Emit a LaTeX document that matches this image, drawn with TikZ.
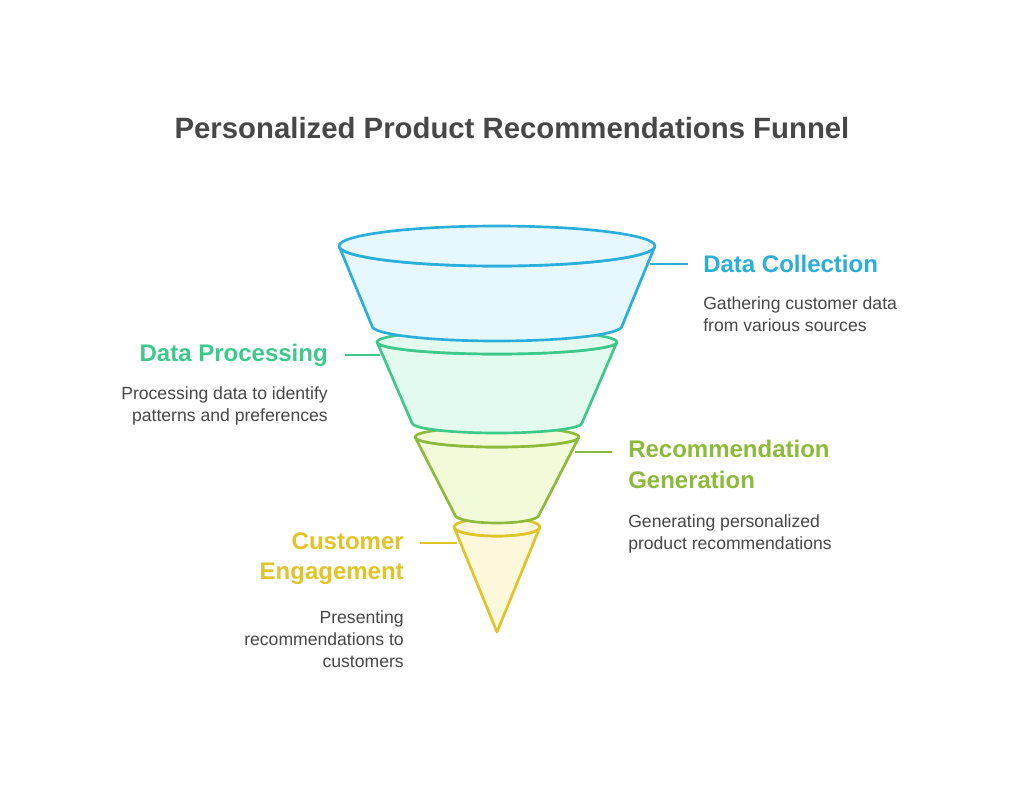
\documentclass[tikz,border=0pt]{standalone}
\usepackage{fontspec}
\setmainfont{Liberation Sans}
\definecolor{cb}{HTML}{2AAEDB}\definecolor{fb}{HTML}{E6F8FE}
\definecolor{cg}{HTML}{3CC98A}\definecolor{fg}{HTML}{E2FBEE}
\definecolor{cl}{HTML}{8DBA3A}\definecolor{fl}{HTML}{F1FAD9}
\definecolor{cy}{HTML}{E0C428}\definecolor{fy}{HTML}{FDF8DC}
\definecolor{tx}{HTML}{474747}
\begin{document}
\begin{tikzpicture}[x=0.75pt,y=-0.75pt,
 seg/.style={line width=2pt,line join=round},
 head/.style={font=\bfseries\fontsize{18}{22}\selectfont,inner sep=0pt},
 desc/.style={font=\fontsize{13.2}{16.8}\selectfont,text=tx,inner sep=0pt},
 conn/.style={line width=1.5pt}]
\useasboundingbox[fill=white] (0,0) rectangle (1024,786);
\node[font=\bfseries\fontsize{22}{26}\selectfont,text=tx] (title) at (512,128) {Personalized Product Recommendations Funnel};
% yellow
\filldraw[seg,draw=cy,fill=fy] (454,527) -- (497,632) -- (540,527) arc[start angle=0,end angle=180,x radius=43,y radius=9] -- cycle;
\filldraw[seg,draw=cy,fill=fy] (497,527) ellipse[x radius=43,y radius=9];
% lime
\filldraw[seg,draw=cl,fill=fl] (415,437) -- (455,515) arc[start angle=180,end angle=0,x radius=42,y radius=8] -- (579,437) arc[start angle=0,end angle=180,x radius=82,y radius=10] -- cycle;
\filldraw[seg,draw=cl,fill=fl] (497,437) ellipse[x radius=82,y radius=10];
% green
\filldraw[seg,draw=cg,fill=fg] (377,342) -- (412,423) arc[start angle=180,end angle=0,x radius=85,y radius=10] -- (617,342) arc[start angle=0,end angle=180,x radius=120,y radius=12] -- cycle;
\filldraw[seg,draw=cg,fill=fg] (497,342) ellipse[x radius=120,y radius=12];
% blue
\filldraw[seg,draw=cb,fill=fb] (339,246) -- (372,326) arc[start angle=180,end angle=0,x radius=125,y radius=15] -- (655,246) arc[start angle=0,end angle=180,x radius=158,y radius=20] -- cycle;
\filldraw[seg,draw=cb,fill=fb] (497,246) ellipse[x radius=158,y radius=20];
% connectors
\coordinate (b1) at (650,264); \coordinate (g1) at (380,355);
\coordinate (l1) at (575,452); \coordinate (y1) at (457,543);
\node[head,text=cb,anchor=west] (dc) at (703,264) {Data Collection};
\draw[conn,cb] (b1) -- (688,264);
\node[desc,anchor=north west,align=left] (dcd) at (703,296) {Gathering customer data\\from various sources};
\node[head,text=cg,anchor=east] (dp) at (328,355) {Data Processing};
\draw[conn,cg] (g1) -- (345,355);
\node[desc,anchor=north east,align=right] (dpd) at (328,386) {Processing data to identify\\patterns and preferences};
\node[head,text=cl,anchor=north west,align=left,font=\bfseries\fontsize{18}{23}\selectfont] (rg) at (628,440) {Recommendation\\Generation};
\draw[conn,cl] (l1) -- (612,452);
\node[desc,anchor=north west,align=left] (rgd) at (628,514) {Generating personalized\\product recommendations};
\node[head,text=cy,anchor=north east,align=right,font=\bfseries\fontsize{18}{23}\selectfont] (ce) at (404,532) {Customer\\Engagement};
\draw[conn,cy] (y1) -- (420,543);
\node[desc,anchor=north east,align=right] (ced) at (404,610) {Presenting\\recommendations to\\customers};
\end{tikzpicture}
\end{document}
